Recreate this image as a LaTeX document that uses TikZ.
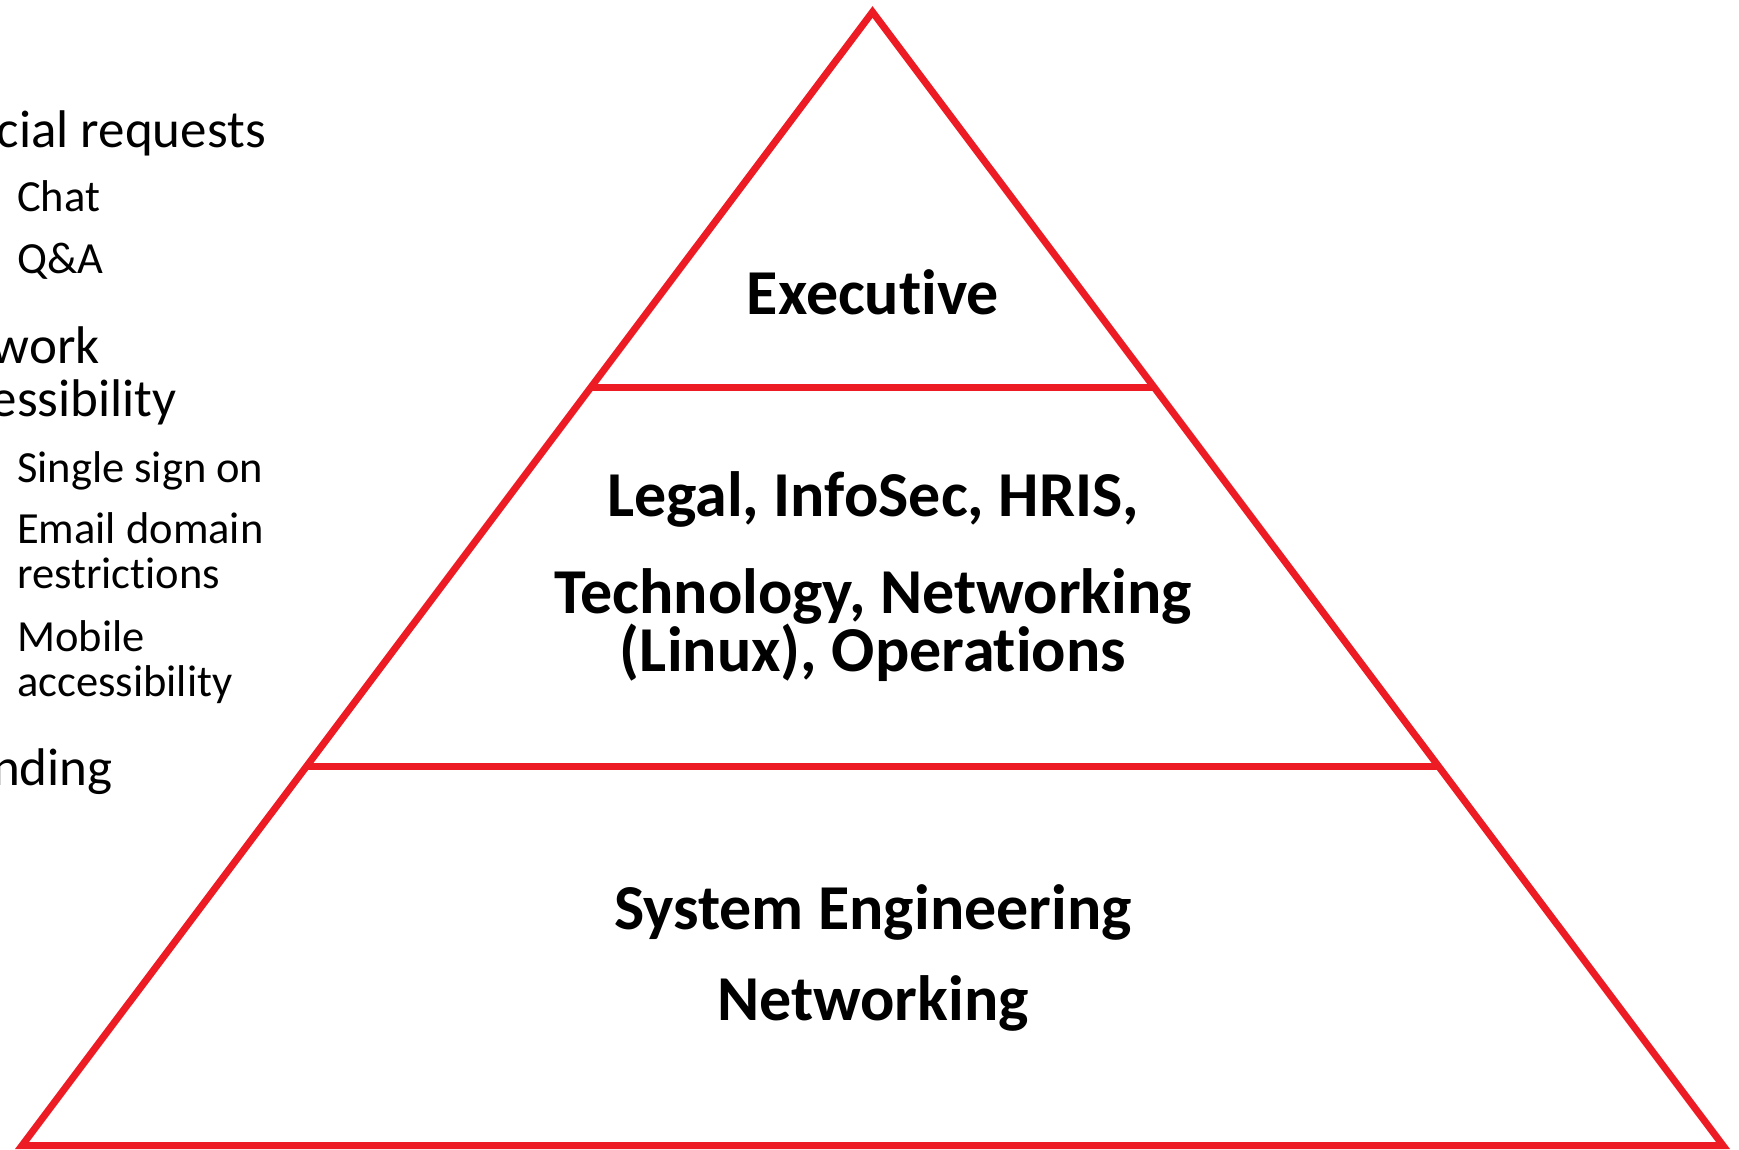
\documentclass[tikz,border=0pt]{standalone}
\usepackage{fontspec}
\setmainfont{Carlito}[Ligatures={NoCommon}]
\usetikzlibrary{calc}
\definecolor{pyrred}{RGB}{237,28,36}
\tikzset{
  edge/.style={draw=pyrred, line width=7pt, line join=miter},
  tier/.style={anchor=base, inner sep=0pt, font=\bfseries\fontsize{64}{76}\selectfont},
  bigitem/.style={anchor=base east, inner sep=0pt, font=\fontsize{53}{64}\selectfont},
  subitem/.style={anchor=base west, inner sep=0pt, font=\fontsize{44.5}{53}\selectfont}
}
\begin{document}
\begin{tikzpicture}[x=1pt,y=-1pt]
\useasboundingbox (0,0) rectangle (1739,1149);
\fill[white] (0,0) rectangle (1739,1149);
\clip (0,0) rectangle (1739,1149);
% pyramid
\coordinate (apex) at (872.5,12);
\coordinate (bl) at (22,1145.5);
\coordinate (br) at (1723,1145.5);
\coordinate (l1) at ($(apex)!0.3317!(bl)$);
\coordinate (r1) at ($(apex)!0.3317!(br)$);
\coordinate (l2) at ($(apex)!0.6652!(bl)$);
\coordinate (r2) at ($(apex)!0.6652!(br)$);
\draw[edge] (apex) -- (bl) -- (br) -- cycle;
\draw[edge] (l1) -- (r1);
\draw[edge] (l2) -- (r2);
% tier labels
\node[tier] (exec) at (873,314) {Executive};
\node[tier] (legal) at (873,516) {Legal, InfoSec, HRIS,};
\node[tier] (tech) at (873,613) {Technology, Networking};
\node[tier] (linux) at (873,671) {(Linux), Operations};
\node[tier] (syseng) at (873,929) {System Engineering};
\node[tier] (netw) at (873,1020) {Networking};
% left list (partly cut off)
\node[bigitem] (spec) at (266,147) {cial requests};
\node[subitem] (chat) at (17,211) {Chat};
\node[subitem] (qa) at (17,273) {Q\&A};
\node[bigitem] (work) at (100,363) {work};
\node[bigitem] (access) at (177,416) {essibility};
\node[subitem] (sso) at (17,482) {Single sign on};
\node[subitem] (email) at (17,543) {Email domain};
\node[subitem] (restr) at (17,588) {restrictions};
\node[subitem] (mobile) at (17,651) {Mobile};
\node[subitem] (macc) at (17,696) {accessibility};
\node[bigitem] (brand) at (113,785) {nding};
\end{tikzpicture}
\end{document}
